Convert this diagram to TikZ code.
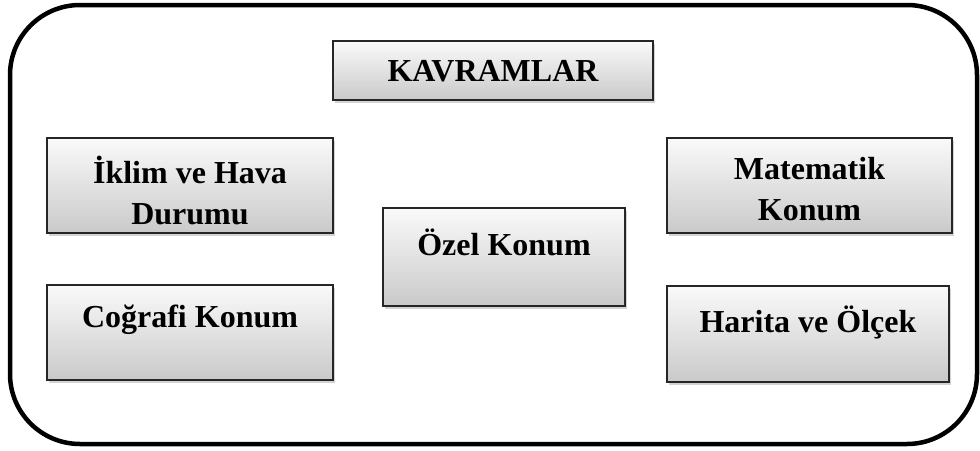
\documentclass[tikz,border=0pt]{standalone}
\usepackage{fontspec}
\setmainfont{Liberation Serif}
\usepackage{tikz}
\usetikzlibrary{positioning,shadows}

\begin{document}
\begin{tikzpicture}[x=1pt, y=-1pt,
  conceptbox/.style={draw=black!85, line width=1.1pt, top color=gray!4, bottom color=gray!42,
    drop shadow={shadow xshift=1.5pt, shadow yshift=-2.5pt, opacity=0.35}, inner sep=0pt},
  boxtext/.style={anchor=north, inner sep=0pt, align=center,
    font=\bfseries\fontsize{32}{41}\selectfont}]
\useasboundingbox (0,0) rectangle (980,450);
% outer frame
\draw[line width=4.5pt, rounded corners=70pt] (10,5) rectangle (977,444);
% boxes
\node[conceptbox, minimum width=320pt, minimum height=59pt] (kavram) at (493,70.5) {};
\node[conceptbox, minimum width=286pt, minimum height=95pt] (iklim) at (190,185.5) {};
\node[conceptbox, minimum width=286pt, minimum height=95pt] (cografi) at (190,332.5) {};
\node[conceptbox, minimum width=242pt, minimum height=98pt] (ozel) at (504,257) {};
\node[conceptbox, minimum width=285pt, minimum height=95pt] (matematik) at (809.5,185.5) {};
\node[conceptbox, minimum width=282pt, minimum height=96pt] (harita) at (808,334) {};
% texts
\node[boxtext, below=17pt of kavram.north] (kavramtxt) {\rule{0pt}{24pt}KAVRAMLAR};
\node[boxtext, below=18pt of iklim.north] (iklimtxt) {\rule{0pt}{24pt}İklim ve Hava\\Durumu};
\node[boxtext, below=19pt of cografi.north] (cografitxt) {\rule{0pt}{24pt}Coğrafi Konum};
\node[boxtext, below=21pt of ozel.north] (ozeltxt) {\rule{0pt}{24pt}Özel Konum};
\node[boxtext, below=18pt of matematik.north] (matematiktxt) {\rule{0pt}{24pt}Matematik\\Konum};
\node[boxtext, below=20pt of harita.north] (haritatxt) {\rule{0pt}{24pt}Harita ve Ölçek};
\end{tikzpicture}
\end{document}
